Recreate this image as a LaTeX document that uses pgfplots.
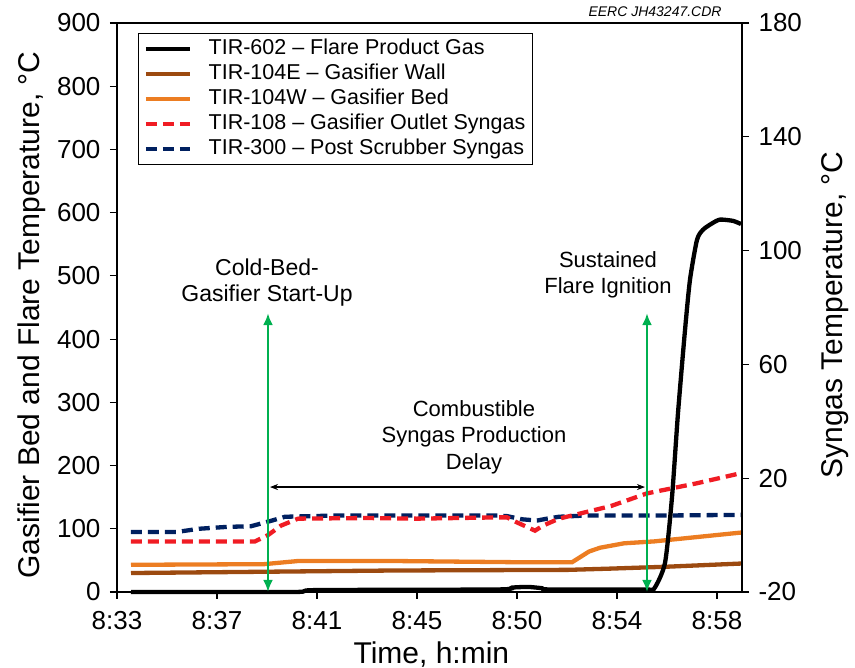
\documentclass[border=0pt]{standalone}
\usepackage{fontspec}
\setmainfont{Liberation Sans}
\usepackage{pgfplots}
\pgfplotsset{compat=1.18}
\usetikzlibrary{arrows.meta}

\definecolor{wallbrown}{RGB}{156,74,16}
\definecolor{bedorange}{RGB}{236,125,34}
\definecolor{outletred}{RGB}{240,28,36}
\definecolor{scrubnavy}{RGB}{0,32,96}
\definecolor{arrowgreen}{RGB}{0,176,80}

\pgfplotsset{
  flaregrid/.style={
    width=625pt, height=569pt, scale only axis,
    at={(0,0)}, anchor=south west,
    xmin=0, xmax=6.25,
    tick align=outside, major tick length=7pt,
    xticklabel shift=9pt, yticklabel shift=6pt,
    axis line style={line width=1.3pt},
    tick style={line width=1.2pt, black},
    ticklabel style={font=\fontsize{26}{30}\selectfont},
    label style={font=\fontsize{30}{34}\selectfont},
    /pgf/number format/assume math mode=true,
  }
}

\begin{document}
\begin{tikzpicture}
\begin{axis}[
  flaregrid,
  ymin=0, ymax=900,
  ytick={0,100,...,900},
  xtick={0,1,2,3,4,5,6},
  xticklabels={8:33,8:37,8:41,8:45,8:50,8:54,8:58},
  xtick pos=bottom, ytick pos=left,
  xlabel={Time, h:min},
  ylabel={Gasifier Bed and Flare Temperature, °C},
  xlabel style={at={(axis description cs:0.503,-0.125)}, anchor=base},
  ylabel style={at={(axis description cs:-0.124,0.487)}, anchor=base},
  clip=false,
  reverse legend,
  legend cell align=left,
  legend image code/.code={\draw[#1] (0pt,0pt) -- (44pt,0pt);},
  legend style={at={(rel axis cs:0.034,0.982)}, anchor=north west,
    draw=black, line width=1.2pt, fill=white,
    font=\fontsize{21.5}{24}\selectfont,
    nodes={inner sep=2.5pt, text height=15pt, text depth=5pt},
    /tikz/every odd column/.append style={column sep=14pt},
    inner xsep=5pt, inner ysep=3pt},
]
% TIR-300 post scrubber syngas
\addplot[scrubnavy, line width=4.3pt, dash pattern=on 11pt off 6pt] coordinates {
  (0.14,95) (0.60,95) (0.82,100) (1.10,103) (1.34,104) (1.55,113) (1.68,119)
  (2.20,121) (3.00,121) (3.81,121) (3.90,120) (4.05,115) (4.20,113) (4.30,116)
  (4.42,119) (4.70,121) (5.50,121) (6.24,122)
};
\addlegendentry{TIR-300 – Post Scrubber Syngas}
% TIR-108 gasifier outlet syngas
\addplot[outletred, line width=4.3pt, dash pattern=on 11pt off 6pt] coordinates {
  (0.14,80) (1.38,80) (1.51,90) (1.64,105) (1.81,116) (2.50,117) (3.00,116)
  (3.81,118) (3.90,118) (4.00,110) (4.07,105) (4.18,97) (4.26,105) (4.42,116)
  (4.68,126) (4.94,136) (5.30,156) (5.80,172) (6.24,188)
};
\addlegendentry{TIR-108 – Gasifier Outlet Syngas}
% TIR-104W gasifier bed
\addplot[bedorange, line width=4.3pt] coordinates {
  (0.14,43) (1.47,44) (1.81,49) (2.77,49) (4.07,47) (4.55,47) (4.72,64)
  (4.83,70) (5.07,77) (5.37,80) (6.24,94)
};
\addlegendentry{TIR-104W – Gasifier Bed}
% TIR-104E gasifier wall
\addplot[wallbrown, line width=4.3pt] coordinates {
  (0.14,30) (2.77,34) (4.51,35) (4.94,37) (5.50,40) (6.24,45)
};
\addlegendentry{TIR-104E – Gasifier Wall}
% TIR-602 flare product gas
\addplot[black, line width=4.3pt, smooth, tension=0.4] coordinates {
  (0.14,0) (1.77,0) (1.99,3) (3.80,4) (3.95,7) (4.11,8) (4.25,6) (4.33,4)
  (5.28,4) (5.37,5) (5.48,46) (5.55,150) (5.61,283) (5.68,414) (5.73,494)
  (5.80,557) (5.86,573) (5.95,583) (6.03,589) (6.16,587) (6.24,582)
};
\addlegendentry{TIR-602 – Flare Product Gas}

% annotations
\draw[arrowgreen, line width=2.6pt, {Latex[length=12pt,width=10pt]}-{Latex[length=12pt,width=10pt]}]
  (axis cs:1.51,0) -- (axis cs:1.51,441);
\draw[arrowgreen, line width=2.6pt, {Latex[length=12pt,width=10pt]}-{Latex[length=12pt,width=10pt]}]
  (axis cs:5.30,0) -- (axis cs:5.30,441);
\draw[black, line width=1.2pt, {Stealth[length=8pt,width=6pt]}-{Stealth[length=8pt,width=6pt]}]
  (axis cs:1.53,166) -- (axis cs:5.28,166);
\node[align=center, font=\fontsize{23}{26}\selectfont] at (axis cs:1.50,489)
  {Cold-Bed-\\Gasifier Start-Up};
\node[align=center, font=\fontsize{22}{26}\selectfont] at (axis cs:4.91,501)
  {Sustained\\Flare Ignition};
\node[align=center, font=\fontsize{22}{26.5}\selectfont] at (axis cs:3.57,245)
  {Combustible\\Syngas Production\\Delay};
\node[anchor=base east, font=\fontsize{14}{16}\selectfont\itshape]
  at (rel axis cs:0.973,1.012) {EERC JH43247.CDR};
\end{axis}

\begin{axis}[
  flaregrid,
  ymin=-20, ymax=180,
  ytick={-20,20,60,100,140,180},
  axis y line*=right, axis x line=none,
  ylabel={Syngas Temperature, °C},
  ylabel style={at={(axis description cs:1.160,0.487)}, anchor=base},
]
\end{axis}

\pgfresetboundingbox
\path[use as bounding box] (-117pt,-76pt) rectangle (738pt,592pt);
\end{tikzpicture}
\end{document}
